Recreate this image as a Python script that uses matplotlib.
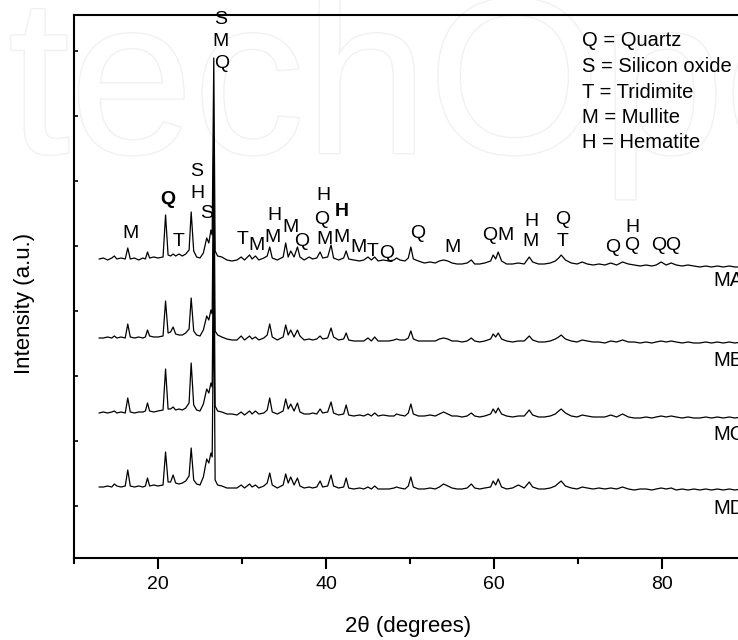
import numpy as np
import matplotlib
matplotlib.use('Agg')
import matplotlib.pyplot as plt
from matplotlib import patheffects

# 2theta positions of the traced vertices (shared by the four patterns)
two_theta = [13.0, 13.5, 14.0, 14.5, 14.8, 15.1, 15.6, 16.1, 16.4, 16.7,
             17.2, 17.7, 18.2, 18.5, 18.75, 19.0, 19.5, 20.0,
             20.6, 20.9, 21.2, 21.5, 21.8, 22.1, 22.5, 22.9, 23.3, 23.7,
             23.95, 24.25, 24.6, 25.0, 25.4, 25.8, 26.05, 26.3, 26.45, 26.64,
             26.8, 27.1, 27.6,
             28.2, 28.8, 29.4, 29.9, 30.3, 30.9, 31.2, 31.6, 32.0, 32.6,
             33.0, 33.3, 33.6, 34.2, 34.9, 35.2, 35.5, 35.8, 36.2, 36.6,
             36.9, 37.4, 38.0, 38.4, 38.9, 39.3, 39.6, 40.2, 40.6, 40.9,
             41.5, 42.1, 42.4, 42.7, 43.3, 44.0, 44.5, 45.0, 45.4, 45.8,
             46.2, 46.8, 47.5, 48.1, 48.4, 48.8, 49.4, 49.8, 50.1, 50.4,
             51.0,
             51.7, 52.4, 53.0, 53.5, 54.0, 54.5, 55.0, 55.6, 56.2, 56.8,
             57.3, 57.7, 58.3, 58.9, 59.6, 59.9, 60.2, 60.5, 60.9, 61.5,
             62.2, 62.9, 63.6, 64.2, 64.6, 65.3, 66.0, 66.7, 67.3, 67.7,
             68.0, 68.5, 69.2, 69.9, 70.5, 71.1, 71.8, 72.5, 73.2, 73.9,
             74.6, 75.3, 76.0, 76.7, 77.4, 78.1, 78.8, 79.3, 79.9, 80.5,
             81.1, 81.7, 82.4, 83.1, 83.8, 84.5, 85.2, 85.9, 86.6, 87.3,
             88.0, 88.7, 89.4, 90.0]

# intensities (a.u.), relative to its own baseline
ma = [0, 1, -1, 1, 3, 0, 1, 0, 11, 0, 1, -1, 1, 0, 7, 1, 2, 1,
      2, 44, 4, 3, 5, 3, 5, 3, 5, 9, 47, 8, 2, 1, 6, 21, 16, 29, 24, 201, 8, 3, 2,
      -1, -2, -1, 2, -1, 4, 0, 3, -1, 1,
      3, 12, 1, -1, 2, 16, 2, 8, 2, 12,
      2, -1, 2, 0, 1, 7, 1, 2, 14, 1,
      -1, 1, 8, 0, -1, -2, -1, 2, -1, 2,
      -2, -1, -2, -1, 1, -1, -2, 1, 12, 0,
      -2,
      -4, -3, -4, -2, -1, -2, -4, -5, -5, -4,
      -1, -5, -5, -4, -2, 4, 0, 7, -2, -5,
      -5, -4, -5, 2, -3, -5, -5, -4, -2, 1,
      4, -1, -4, -5, -3, -5, -6, -5, -6, -4,
      -6, -3, -5, -6, -7, -6, -7, -6, -3, -6,
      -4, -6, -7, -6, -7, -8, -7, -8, -7, -8,
      -7, -8, -8, -8]

mb = [0, 0, 1, 0, 2, 0, 1, 0, 14, 1, 0, 1, 0, 1, 8, 2, 1, 1,
      2, 37, 5, 6, 11, 4, 3, 3, 5, 9, 40, 7, 3, 2, 8, 22, 18, 28, 24, 201, 7, 3, 1,
      -1, -2, -2, 2, -2, 2, -1, 1, -2, 0,
      3, 14, 1, -2, 1, 13, 3, 8, 1, 8,
      2, -2, -1, -2, -1, 2, -1, 0, 10, 1,
      -2, -1, 5, -2, -3, -3, -3, 0, -3, 1,
      -3, -3, -3, -2, -1, -2, -2, 0, 7, -1,
      -3,
      -3, -3, -3, -1, 0, -1, -3, -3, -4, -3,
      0, -3, -4, -3, -1, 4, 1, 5, -1, -3,
      -4, -3, -3, 2, -2, -4, -4, -3, -1, 1,
      3, -1, -3, -4, -2, -3, -4, -4, -5, -3,
      -4, -2, -4, -4, -5, -4, -5, -4, -3, -4,
      -3, -4, -5, -4, -5, -5, -4, -5, -4, -5,
      -4, -5, -4, -4]

mc = [0, 1, 0, 1, 2, 0, 1, 0, 15, 1, 0, 1, 1, 2, 10, 2, 1, 2,
      3, 44, 4, 4, 6, 3, 4, 3, 5, 10, 50, 8, 3, 2, 9, 24, 20, 30, 26, 200, 7, 2, 1,
      -1, -1, -2, 1, -2, 2, -1, 2, -1, 0,
      3, 15, 1, -1, 2, 14, 4, 9, 2, 10,
      1, -1, -1, 0, -1, 4, 0, 1, 11, 0,
      -2, -1, 8, -2, -3, -2, -3, -1, -3, 0,
      -3, -2, -3, -3, -1, -2, -3, 0, 9, -1,
      -3,
      -3, -2, -3, -1, 1, -1, -3, -3, -4, -3,
      0, -3, -4, -3, -1, 4, 0, 5, -1, -3,
      -4, -3, -3, 3, -2, -4, -4, -3, -1, 2,
      4, 0, -3, -4, -2, -3, -4, -4, -4, -2,
      -4, -1, -4, -5, -5, -4, -5, -4, -3, -4,
      -3, -4, -5, -4, -5, -5, -4, -5, -4, -5,
      -4, -5, -4, -4]

md = [0, 0, 1, 0, 3, 1, 0, 1, 17, 1, 0, 1, 0, 1, 9, 1, 2, 1,
      2, 35, 5, 5, 12, 4, 3, 4, 6, 11, 39, 7, 3, 2, 10, 28, 24, 34, 30, 200, 7, 2, 1,
      -1, -1, -1, 2, -1, 3, 0, 2, -1, 1,
      4, 14, 2, -1, 2, 13, 4, 10, 2, 9,
      1, -1, 0, -1, 0, 6, 0, 1, 12, 1,
      -1, 0, 9, -1, -2, -1, -2, 0, -2, 1,
      -2, -2, -2, -1, 0, -1, -2, 1, 10, 0,
      -2,
      -2, -1, -2, 0, 3, 1, -1, -2, -2, -1,
      3, -1, -2, -1, 0, 6, 2, 8, 0, -2,
      -1, 2, -1, 5, 0, -2, -2, -1, 1, 4,
      6, 1, -1, -2, 0, -1, -2, -1, -2, -1,
      -2, 0, -2, -3, -2, -2, -3, -2, -1, -2,
      -1, -3, -2, -3, -2, -3, -2, -3, -2, -3,
      -2, -3, -2, -3]

samples = ['MA', 'MB', 'MC', 'MD']
offsets = [299, 220, 145, 71]

# phase letters over the peaks of MA: (2theta, height, letter, bold)
peak_labels = [
    (27.5, 539, 'S', False), (27.5, 516, 'M', False), (27.62, 494, 'Q', False),
    (16.67, 324, 'M', False), (21.19, 358, 'Q', True), (22.5, 317, 'T', False),
    (24.64, 386, 'S', False), (24.64, 364, 'H', False), (25.83, 345, 'S', False),
    (30.12, 318, 'T', False), (31.67, 312, 'M', False),
    (33.81, 342, 'H', False), (33.69, 320, 'M', False), (35.83, 330, 'M', False),
    (37.14, 316, 'Q', False),
    (39.64, 363, 'H', False), (39.52, 339, 'Q', False), (39.88, 318, 'M', False),
    (41.87, 346, 'H', True), (41.79, 321, 'M', False), (43.81, 310, 'M', False),
    (45.6, 306, 'T', False), (47.26, 304, 'Q', False), (50.95, 325, 'Q', False),
    (55.0, 311, 'M', False), (59.52, 322, 'Q', False), (61.31, 322, 'M', False),
    (64.49, 337, 'H', False), (64.4, 317, 'M', False),
    (68.21, 339, 'Q', False), (68.21, 317, 'T', False),
    (74.13, 311, 'Q', False), (76.43, 331, 'H', False), (76.43, 313, 'Q', False),
    (79.64, 312, 'Q', False), (81.31, 312, 'Q', False),
]

key_lines = ['Q = Quartz', 'S = Silicon oxide', 'T = Tridimite',
             'M = Mullite', 'H = Hematite']

plt.rcParams['font.family'] = ['Liberation Sans', 'DejaVu Sans']

fig = plt.figure(figsize=(7.38, 6.4), dpi=100)
# the plot box runs a little past the right edge of the picture, as in the original
ax = fig.add_axes([74 / 738, 82 / 640, 672 / 738, 543 / 640])
ax.patch.set_alpha(0)

# faint publisher watermark behind everything
fig.text(8 / 738, 1 - 153 / 640, 'techOpen', fontsize=160, color='white',
         va='baseline', zorder=-5,
         path_effects=[patheffects.withStroke(linewidth=2, foreground='#f1f1f1')])

for name, vals, off in zip(samples, [ma, mb, mc, md], offsets):
    ax.plot(two_theta, np.array(vals) + off, color='black', lw=0.9)
    ax.text(86.07, off - 22, name, fontsize=14.5, ha='left', va='center')

for x, y, letter, bold in peak_labels:
    ax.text(x, y, letter, fontsize=14, ha='center', va='center',
            fontweight='bold' if bold else 'normal')

for i, line in enumerate(key_lines):
    ax.text(70.48, 517 - 25.5 * i, line, fontsize=14.5, ha='left', va='center')

ax.set_xlim(10, 90)
ax.set_ylim(0, 543)
ax.set_xticks([20, 40, 60, 80])
ax.set_xticks([10, 30, 50, 70, 90], minor=True)
ax.set_yticks(np.arange(52, 543, 65))
ax.set_yticklabels([])
ax.tick_params(axis='x', which='major', direction='out', length=8, width=1.5,
               labelsize=14, pad=5)
ax.tick_params(axis='x', which='minor', direction='out', length=4.5, width=1.5)
ax.tick_params(axis='y', which='major', direction='in', length=3, width=1.2)
for s in ax.spines.values():
    s.set_linewidth(1.5)

ax.set_xlabel('2θ (degrees)', fontsize=16, va='center')
ax.xaxis.set_label_coords(0.497, -0.127)
ax.set_ylabel('Intensity (a.u.)', fontsize=16, va='center')
ax.yaxis.set_label_coords(-0.0744, 0.4696)

plt.savefig('out.png', dpi=100)
